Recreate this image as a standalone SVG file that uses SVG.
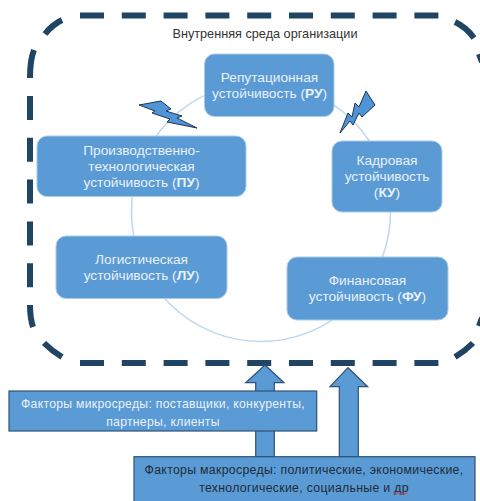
<svg xmlns="http://www.w3.org/2000/svg" width="480" height="501" viewBox="0 0 480 501">
<style>
.bg{fill:#fff}
.d{fill:none;stroke:#1f4464;stroke-width:6}
.ds{stroke-dasharray:24 17.8}
.ring{fill:none;stroke:#bdd7ee;stroke-width:1.5}
.n{fill:#5b9bd5;stroke:#a9cbe9;stroke-width:1}
.b{fill:#5b9bd5;stroke:#2f5273;stroke-width:1.2}
.bolt{fill:#4f94d6;stroke:#1f3550;stroke-width:1}
text{font-family:"Liberation Sans",Arial,sans-serif;text-anchor:middle}
.t{fill:#e9f1f9;font-size:13.7px}
.m{fill:#e9f1f9;font-size:12.2px;letter-spacing:.3px}
.k{fill:#1d2b3a;font-size:12.3px;letter-spacing:.3px}
.h{fill:#333;font-size:12.7px}
.bd{font-weight:700}
</style>
<rect class="bg" width="480" height="501"/>
<g id="frame">
<path class="d ds" d="M80,15.5H440"/>
<path class="d ds" d="M80,363H440"/>
<path class="d ds" d="M30,96V290"/>
<path class="d" d="M62,20Q52,25 45,34M34,50Q30,60 30,78M30,305Q30,318 33,327M44,343Q52,351 62,357M455,22Q466,27 474,38M479,54L482,62M473,343Q465,351 455,357M482,318L479,326"/>
<text class="h" x="265" y="37.5">Внутренняя среда организации</text>
</g>
<g id="connectors">
<circle class="ring" cx="261" cy="212" r="129.5"/>
</g>
<g id="node-ru">
<rect class="n" x="204.5" y="54" width="129.5" height="62.5" rx="10"/>
<text class="t" x="269.5" y="82">Репутационная</text>
<text class="t" x="269.5" y="98">устойчивость (<tspan class="bd">РУ</tspan>)</text>
</g>
<g id="node-pu">
<rect class="n" x="37" y="136" width="209" height="60.5" rx="10"/>
<text class="t" x="141.5" y="154.5">Производственно-</text>
<text class="t" x="141.5" y="170.5">технологическая</text>
<text class="t" x="141.5" y="186.5">устойчивость (<tspan class="bd">ПУ</tspan>)</text>
</g>
<g id="node-ku">
<rect class="n" x="332" y="141" width="110" height="71" rx="10"/>
<text class="t" x="387" y="165">Кадровая</text>
<text class="t" x="387" y="181">устойчивость</text>
<text class="t" x="387" y="197">(<tspan class="bd">КУ</tspan>)</text>
</g>
<g id="node-lu">
<rect class="n" x="56" y="236" width="171" height="62.5" rx="10"/>
<text class="t" x="141.5" y="263.5">Логистическая</text>
<text class="t" x="141.5" y="279.5">устойчивость (<tspan class="bd">ЛУ</tspan>)</text>
</g>
<g id="node-fu">
<rect class="n" x="287" y="257" width="161" height="63" rx="10"/>
<text class="t" x="367.5" y="284.5">Финансовая</text>
<text class="t" x="367.5" y="300.5">устойчивость (<tspan class="bd">ФУ</tspan>)</text>
</g>
<g id="bolt-left">
<polygon class="bolt" points="139,105 161,101 171,109 166,111 182,116 177,118 197,128 167,122 170,119 152,113 155,111"/>
</g>
<g id="bolt-right">
<polygon class="bolt" points="340,133 348,113 352,117 355,103 359,107 366,91 375,105 362,117 359,113 353,125 350,121"/>
</g>
<g id="arrow-micro">
<polygon class="b" points="265,365 284,382.7 274.3,382.7 274.3,456.7 255.7,456.7 255.7,382.7 245.7,382.7"/>
</g>
<g id="arrow-macro">
<polygon class="b" points="348,367.7 367.7,386.7 358.3,386.7 358.3,456.7 339.3,456.7 339.3,386.7 330,386.7"/>
</g>
<g id="box-micro">
<rect class="b" x="9" y="391" width="307.7" height="40"/>
<text class="m" x="163" y="408">Факторы микросреды: поставщики, конкуренты,</text>
<text class="m" x="163" y="426">партнеры, клиенты</text>
</g>
<g id="box-macro">
<rect class="b" x="134" y="456.7" width="341" height="47"/>
<text class="k" x="304" y="474">Факторы макросреды: политические, экономические,</text>
<text class="k" x="304" y="492">технологические,  социальные и др</text>
<path d="M393,493.5q1,-1 2,0t2,0t2,0t2,0t2,0t2,0t2,0" fill="none" stroke="#d23a3a" stroke-width="1"/>
</g>
</svg>
